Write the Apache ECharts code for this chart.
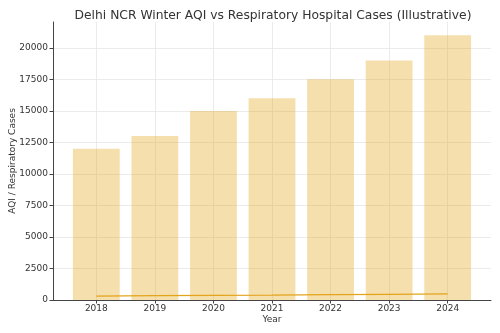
<!DOCTYPE html>
<html>
<head>
<meta charset="utf-8">
<script src="https://cdn.jsdelivr.net/npm/echarts@6/dist/echarts.min.js"></script>
<style>
  html, body { margin: 0; padding: 0; background: #fff; }
  #chart { width: 500px; height: 333px; }
</style>
</head>
<body>
<div id="chart"></div>
<script>
// Winter season data, Delhi NCR (illustrative figures)
const years = [2018, 2019, 2020, 2021, 2022, 2023, 2024];
const respiratoryCases = [12000, 13000, 15000, 16000, 17500, 19000, 21000];
const winterAQI = [310, 340, 370, 390, 420, 450, 480];
const yTicks = [0, 2500, 5000, 7500, 10000, 12500, 15000, 17500, 20000];

const font = 'DejaVu Sans, sans-serif';
const chart = echarts.init(document.getElementById('chart'), null, { renderer: 'canvas' });

chart.setOption({
  animation: false,
  backgroundColor: '#ffffff',
  title: {
    text: 'Delhi NCR Winter AQI vs Respiratory Hospital Cases (Illustrative)',
    left: 268,
    textAlign: 'center',
    top: 5,
    textStyle: { fontFamily: font, fontSize: 12.3, fontWeight: 'normal', color: '#333' }
  },
  grid: { left: 53, right: 9, top: 22, bottom: 33, containLabel: false, outerBoundsMode: 'none' },
  xAxis: {
    type: 'value',
    min: 2017.26,
    max: 2024.74,
    name: 'Year',
    nameLocation: 'middle',
    nameGap: 15,
    nameMoveOverlap: false,
    nameTextStyle: { fontFamily: font, fontSize: 9, color: '#333' },
    axisLine: { show: true, lineStyle: { color: '#444', width: 1 } },
    axisTick: { show: true, length: 3.5, lineStyle: { color: '#444' }, customValues: years },
    axisLabel: {
      fontFamily: font, fontSize: 9, color: '#333', margin: 4,
      customValues: years,
      formatter: v => String(v)
    },
    splitLine: { show: true, lineStyle: { color: '#e6e6e6', width: 0.8 } }
  },
  yAxis: {
    type: 'value',
    min: 0,
    max: 22050,
    name: 'AQI / Respiratory Cases',
    nameLocation: 'middle',
    nameGap: 36,
    nameMoveOverlap: false,
    nameTextStyle: { fontFamily: font, fontSize: 9, color: '#333' },
    axisLine: { show: true, lineStyle: { color: '#444', width: 1 } },
    axisTick: { show: true, length: 3.5, lineStyle: { color: '#444' }, customValues: yTicks },
    axisLabel: {
      fontFamily: font, fontSize: 9, color: '#333', margin: 5,
      customValues: yTicks,
      formatter: v => String(v)
    },
    splitLine: { show: true, lineStyle: { color: '#e6e6e6', width: 0.8 } }
  },
  series: [
    {
      name: 'Respiratory Cases',
      type: 'bar',
      barWidth: 46.8,
      itemStyle: { color: 'rgba(230, 170, 40, 0.38)' },
      data: years.map((y, i) => [y, respiratoryCases[i]])
    },
    {
      name: 'Winter AQI',
      type: 'line',
      showSymbol: false,
      lineStyle: { color: '#e3a41c', width: 1.3 },
      data: years.map((y, i) => [y, winterAQI[i]])
    }
  ]
});
</script>
</body>
</html>
